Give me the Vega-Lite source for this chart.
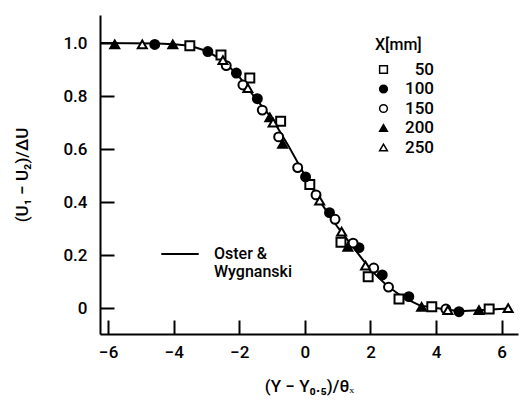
{
  "$schema": "https://vega.github.io/schema/vega-lite/v6.json",
  "width": 418,
  "height": 319,
  "autosize": "none",
  "padding": {"left": 100, "top": 15, "right": 2, "bottom": 67},
  "background": "white",
  "config": {
    "view": {"stroke": null},
    "font": "Roboto",
    "axis": {"domainColor": "black", "tickColor": "black", "labelColor": "black", "titleColor": "black", "domainWidth": 2, "tickWidth": 2, "grid": false, "labelFontSize": 17, "labelFontWeight": 500, "titleFontSize": 17, "titleFontWeight": 500},
    "legend": {"labelColor": "black", "titleColor": "black", "labelFontWeight": 500}
  },
  "datasets": {
    "line": [
      {"x": -6.25, "y": 1.0},
      {"x": -4.5, "y": 0.998},
      {"x": -4.0, "y": 0.996},
      {"x": -3.5, "y": 0.99},
      {"x": -3.0, "y": 0.97},
      {"x": -2.5, "y": 0.935},
      {"x": -2.0, "y": 0.872},
      {"x": -1.5, "y": 0.79},
      {"x": -1.0, "y": 0.715},
      {"x": -0.5, "y": 0.612},
      {"x": 0.0, "y": 0.5},
      {"x": 0.5, "y": 0.395},
      {"x": 1.0, "y": 0.305},
      {"x": 1.5, "y": 0.225},
      {"x": 2.0, "y": 0.145},
      {"x": 2.5, "y": 0.085},
      {"x": 3.0, "y": 0.04},
      {"x": 3.5, "y": 0.01},
      {"x": 4.0, "y": 0.0},
      {"x": 4.7, "y": -0.012},
      {"x": 5.3, "y": -0.008},
      {"x": 6.2, "y": -0.002}
    ],
    "pts": [
      {"X": "50", "x": -3.51, "y": 0.99},
      {"X": "50", "x": -2.56, "y": 0.955},
      {"X": "50", "x": -1.68, "y": 0.868},
      {"X": "50", "x": -0.74, "y": 0.705},
      {"X": "50", "x": 0.15, "y": 0.466},
      {"X": "50", "x": 1.1, "y": 0.248},
      {"X": "50", "x": 1.93, "y": 0.118},
      {"X": "50", "x": 2.87, "y": 0.034},
      {"X": "50", "x": 3.87, "y": 0.005},
      {"X": "50", "x": 5.62, "y": -0.004},
      {"X": "100", "x": -4.58, "y": 0.995},
      {"X": "100", "x": -2.96, "y": 0.968},
      {"X": "100", "x": -2.09, "y": 0.887},
      {"X": "100", "x": -1.45, "y": 0.79},
      {"X": "100", "x": 0.02, "y": 0.495},
      {"X": "100", "x": 0.75, "y": 0.36},
      {"X": "100", "x": 1.65, "y": 0.228},
      {"X": "100", "x": 2.36, "y": 0.125},
      {"X": "100", "x": 3.17, "y": 0.043},
      {"X": "100", "x": 4.7, "y": -0.014},
      {"X": "150", "x": -2.4, "y": 0.915},
      {"X": "150", "x": -1.89, "y": 0.842},
      {"X": "150", "x": -1.3, "y": 0.747},
      {"X": "150", "x": -0.8, "y": 0.646},
      {"X": "150", "x": -0.22, "y": 0.53},
      {"X": "150", "x": 0.34, "y": 0.427},
      {"X": "150", "x": 0.92, "y": 0.335},
      {"X": "150", "x": 1.47, "y": 0.245},
      {"X": "150", "x": 2.1, "y": 0.151},
      {"X": "150", "x": 2.55, "y": 0.079},
      {"X": "150", "x": 4.3, "y": -0.004},
      {"X": "200", "x": -5.8, "y": 0.995},
      {"X": "200", "x": -4.03, "y": 0.995},
      {"X": "200", "x": -1.07, "y": 0.72},
      {"X": "200", "x": -0.68, "y": 0.62},
      {"X": "200", "x": 1.31, "y": 0.231},
      {"X": "200", "x": 3.56, "y": 0.004},
      {"X": "200", "x": 5.31, "y": -0.008},
      {"X": "250", "x": -4.96, "y": 0.995},
      {"X": "250", "x": -2.5, "y": 0.936},
      {"X": "250", "x": -1.74, "y": 0.83},
      {"X": "250", "x": -0.97, "y": 0.7},
      {"X": "250", "x": 0.45, "y": 0.405},
      {"X": "250", "x": 1.12, "y": 0.288},
      {"X": "250", "x": 1.85, "y": 0.16},
      {"X": "250", "x": 4.36, "y": -0.008},
      {"X": "250", "x": 6.2, "y": 0.0}
    ]
  },
  "layer": [
    {
      "data": {"name": "line"},
      "mark": {"type": "line", "strokeWidth": 2, "clip": false},
      "encoding": {
        "x": {"field": "x", "type": "quantitative", "scale": {"domain": [-6.25, 6.5], "nice": false, "zero": false},
          "axis": {"values": [-6, -4, -2, 0, 2, 4, 6], "tickSize": -14, "labelPadding": 24, "title": "(Y − Y₀.₅)/θₓ", "titlePadding": 18, "labelExpr": "replace(datum.label, '-', '−')"}},
        "y": {"field": "y", "type": "quantitative", "scale": {"domain": [-0.098, 1.106], "nice": false, "zero": false},
          "axis": {"values": [0, 0.2, 0.4, 0.6, 0.8, 1.0], "tickSize": -14, "labelPadding": 27, "labelExpr": "datum.value == 0 ? '0' : format(datum.value, '.1f')", "title": "(U₁ − U₂)/ΔU", "titlePadding": 31}},
        "stroke": {"datum": "Oster & Wygnanski", "type": "nominal", "scale": {"range": ["black"]},
          "legend": {"orient": "none", "legendX": 60, "legendY": 219, "title": null, "symbolType": "stroke", "symbolSize": 1400, "symbolStrokeWidth": 2, "labelFontSize": 16, "labelOffset": 14, "labelExpr": "['Oster &', 'Wygnanski']"}}
      }
    },
    {
      "data": {"name": "pts"},
      "mark": {"type": "point", "filled": true, "stroke": "black", "strokeWidth": 2, "size": 80, "opacity": 1},
      "encoding": {
        "x": {"field": "x", "type": "quantitative"},
        "y": {"field": "y", "type": "quantitative"},
        "shape": {"field": "X", "type": "nominal", "scale": {"domain": ["50", "100", "150", "200", "250"], "range": ["square", "circle", "circle", "triangle-up", "triangle-up"]},
          "legend": {"orient": "none", "legendX": 275, "legendY": 22, "title": "X[mm]", "titleFontSize": 16, "titleFontWeight": 500, "titlePadding": 8, "labelFontSize": 17, "rowPadding": 1.5, "symbolSize": 60, "labelAlign": "right", "labelOffset": 42,
            "encode": {"symbols": {"update": {"stroke": {"value": "black"}, "strokeWidth": {"value": 2}}}}}},
        "fill": {"field": "X", "type": "nominal", "scale": {"domain": ["50", "100", "150", "200", "250"], "range": ["white", "black", "white", "black", "white"]},
          "legend": {"orient": "none", "legendX": 275, "legendY": 22, "title": "X[mm]", "titleFontSize": 16, "titleFontWeight": 500, "titlePadding": 8, "labelFontSize": 17, "rowPadding": 1.5, "symbolSize": 60, "labelAlign": "right", "labelOffset": 42,
            "encode": {"symbols": {"update": {"stroke": {"value": "black"}, "strokeWidth": {"value": 2}}}}}}
      }
    }
  ]
}
